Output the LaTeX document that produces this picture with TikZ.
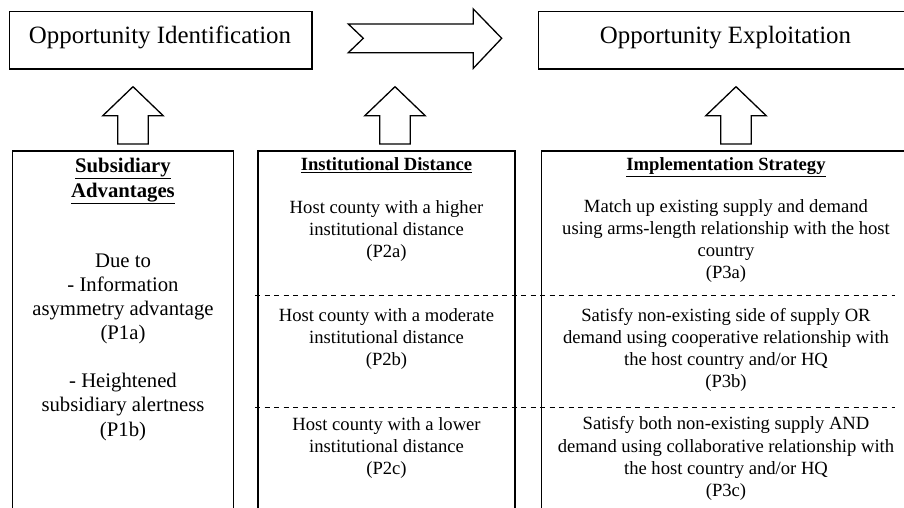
\documentclass[tikz,border=0pt]{standalone}
\usepackage{fontspec}
\setmainfont{Liberation Serif}
\usepackage{tikz}

\tikzset{
  box/.style={draw, line width=1.3bp, inner sep=0pt},
  sepline/.style={dash pattern=on 5bp off 4.5bp, line width=1.2bp},
  blockarrow/.style={draw, line width=1.3bp, fill=white, line join=miter},
  txt/.style={align=center, inner sep=0pt, font=\fontsize{18.7}{22.2}\selectfont},
  lefttxt/.style={align=center, inner sep=0pt, font=\fontsize{20.8}{24.3}\selectfont},
  title/.style={inner sep=0pt, font=\fontsize{25}{30}\selectfont}
}

\begin{document}
\begin{tikzpicture}[x=1bp, y=-1bp]

        \clip (0,0) rectangle (904,508);
        \fill [white] (0,0) rectangle (904,508);

        %Top boxes
        \node [box, minimum width=302.7bp, minimum height=57.3bp] (identbox) at (160.7,40.3) {};
        \node [title, anchor=base] (identtext) at (160,43.3) {Opportunity Identification};
        \node [box, minimum width=373.7bp, minimum height=57.3bp] (exploitbox) at (725.2,40.3) {};
        \node [title, anchor=base] (exploittext) at (725.5,43.3) {Opportunity Exploitation};

        %Chevron
        \draw [blockarrow] (348.3,24) -- (473.3,24) -- (473.3,9) -- (501.7,38.3) -- (473.3,68.3)
              -- (473.3,52.7) -- (348.3,52.7) -- (363.3,38.3) -- cycle;

        %Up arrows
        \foreach \x in {133,395,736}
          \draw [blockarrow] (\x-15.3,144) -- (\x-15.3,115.7) -- (\x-30.2,115.7) -- (\x,86.7)
                -- (\x+30.2,115.7) -- (\x+15.3,115.7) -- (\x+15.3,144) -- cycle;

        %Bottom boxes
        \node [box, minimum width=220.6bp, minimum height=379bp] (subbox) at (123,340.5) {};
        \node [box, minimum width=257bp, minimum height=379bp] (instbox) at (386.5,340.5) {};
        \node [box, minimum width=370.3bp, minimum height=379bp] (implbox) at (726.85,340.5) {};

        %Separators
        \draw [sepline] (255,295.7) -- (895,295.7);
        \draw [sepline] (255,407.3) -- (895,407.3);

        %Subsidiary advantages
        \node [lefttxt] (subhead) at (123,181) {\textbf{\underline{Subsidiary}}\\\textbf{\underline{Advantages}}};
        \node [lefttxt] (pOnea) at (123,299) {Due to\\- Information\\asymmetry advantage\\(P1a)};
        \node [lefttxt] (pOneb) at (123,407) {- Heightened\\subsidiary alertness\\(P1b)};

        %Institutional distance
        \node [txt, anchor=base] (insthead) at (386.5,171) {\textbf{\underline{Institutional Distance}}};
        \node [txt] (pTwoa) at (386.5,231) {Host county with a higher\\institutional distance\\(P2a)};
        \node [txt] (pTwob) at (386.5,339.3) {Host county with a moderate\\institutional distance\\(P2b)};
        \node [txt] (pTwoc) at (386.5,447.7) {Host county with a lower\\institutional distance\\(P2c)};

        %Implementation strategy
        \node [txt, anchor=base] (implhead) at (726,171) {\textbf{\underline{Implementation Strategy}}};
        \node [txt] (pThreea) at (726,241) {Match up existing supply and demand\\using arms-length relationship with the host\\country\\(P3a)};
        \node [txt] (pThreeb) at (726,350.2) {Satisfy non-existing side of supply OR\\demand using cooperative relationship with\\the host country and/or HQ\\(P3b)};
        \node [txt] (pThreec) at (726,458.5) {Satisfy both non-existing supply AND\\demand using collaborative relationship with\\the host country and/or HQ\\(P3c)};

\end{tikzpicture}
\end{document}
